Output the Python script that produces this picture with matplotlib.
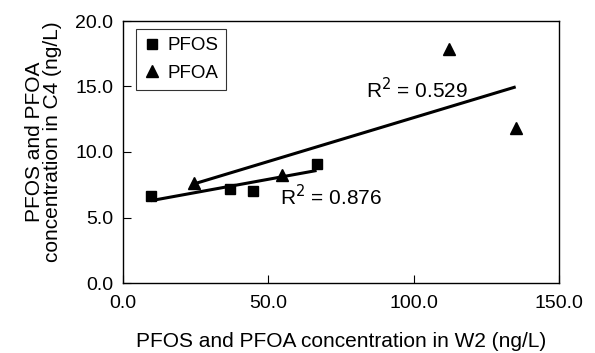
import numpy as np
import matplotlib
matplotlib.use("Agg")
import matplotlib.pyplot as plt

plt.rcParams['font.family'] = ['Liberation Sans', 'DejaVu Sans']

# values
pfos_w2 = [9.6, 36.7, 44.6, 66.6]
pfos_c4 = [6.64, 7.18, 7.05, 9.08]
pfoa_w2 = [24.3, 54.7, 112.1, 135.1]
pfoa_c4 = [7.61, 8.24, 17.9, 11.8]
r2_pfos = "0.876"
r2_pfoa = "0.529"
x_ticks = [0, 50, 100, 150]
y_ticks = [0, 5, 10, 15, 20]

fig = plt.figure(figsize=(5.95, 3.53), dpi=100)
ax = fig.add_axes([123/595, 1 - 283/353, 436/595, 262/353])

ax.plot(pfos_w2, pfos_c4, 's', color='black', markersize=7, label='PFOS', zorder=3)
ax.plot(pfoa_w2, pfoa_c4, '^', color='black', markersize=8, label='PFOA', zorder=3)

# linear trend lines
for xs, ys in [(pfos_w2, pfos_c4), (pfoa_w2, pfoa_c4)]:
    k, b = np.polyfit(xs, ys, 1)
    xx = np.array([min(xs), max(xs)])
    ax.plot(xx, k * xx + b, color='black', linewidth=2.2, solid_capstyle='butt')

ax.text(54.0, 5.95, "R$^2$ = " + r2_pfos, fontsize=15, va='baseline', ha='left')
ax.text(83.6, 14.1, "R$^2$ = " + r2_pfoa, fontsize=15, va='baseline', ha='left')

ax.set_xlim(0, 150)
ax.set_ylim(0, 20)
ax.set_xticks(x_ticks)
ax.set_yticks(y_ticks)
ax.set_xticklabels([f"{v:.1f}" for v in x_ticks])
ax.set_yticklabels([f"{v:.1f}" for v in y_ticks])
ax.tick_params(axis='both', direction='in', length=6, width=0.8, labelsize=14)
ax.tick_params(axis='x', pad=9)
ax.tick_params(axis='y', pad=7)
for s in ax.spines.values():
    s.set_linewidth(1.0)

ax.set_xlabel("PFOS and PFOA concentration in W2 (ng/L)", fontsize=15, labelpad=14)
ax.set_ylabel("PFOS and PFOA\nconcentration in C4 (ng/L)", fontsize=15, linespacing=0.95)
ax.yaxis.set_label_coords(-0.14, 0.54)

leg = ax.legend(loc='upper left', bbox_to_anchor=(0.03, 0.97), borderaxespad=0,
                fontsize=13.5, fancybox=False, edgecolor='black', handlelength=0.8,
                handletextpad=0.4, labelspacing=0.55, borderpad=0.45)
leg.get_frame().set_linewidth(0.8)

fig.savefig("out.png", dpi=100)
